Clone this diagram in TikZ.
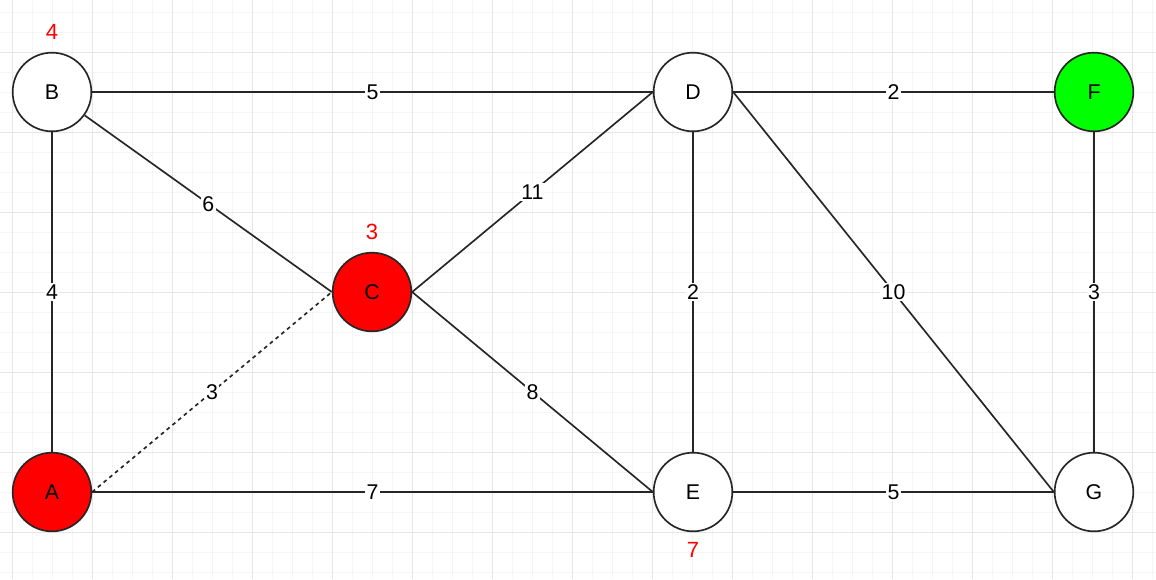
\documentclass[tikz,border=0pt]{standalone}
\usepackage{fontspec}
\setmainfont{Liberation Sans}
\definecolor{gridminor}{RGB}{245,245,245}
\definecolor{gridmajor}{RGB}{230,230,230}
\definecolor{nodered}{RGB}{255,0,0}
\definecolor{nodegreen}{RGB}{0,255,0}
\begin{document}
\begin{tikzpicture}[x=0.75pt,y=-0.75pt,
  vert/.style={circle,draw=black!85,line width=1.25pt,minimum size=59pt,inner sep=0pt,fill=white,font=\fontsize{16}{19}\selectfont},
  edge/.style={draw=black!85,line width=1.25pt},
  wlabel/.style={fill=white,inner sep=1pt,font=\fontsize{16}{19}\selectfont},
  redlabel/.style={text=nodered,font=\fontsize{16.5}{19}\selectfont}]
\useasboundingbox (0,0) rectangle (1156,579);
\fill[white] (0,0) rectangle (1156,579);
% grid
\foreach \x in {12,32,...,1152} \draw[gridminor,line width=0.75pt] (\x,0) -- (\x,579);
\foreach \y in {12,32,...,572} \draw[gridminor,line width=0.75pt] (0,\y) -- (1156,\y);
\foreach \x in {12,92,...,1152} \draw[gridmajor,line width=0.75pt] (\x,0) -- (\x,579);
\foreach \y in {52,132,...,572} \draw[gridmajor,line width=0.75pt] (0,\y) -- (1156,\y);
% nodes
\node[vert] (B) at (52,92) {B};
\node[vert] (D) at (693,92) {D};
\node[vert,fill=nodegreen] (F) at (1094,92) {F};
\node[vert,fill=nodered] (C) at (372,292) {C};
\node[vert,fill=nodered] (A) at (52,492) {A};
\node[vert] (E) at (693,492) {E};
\node[vert] (G) at (1094,492) {G};
% red labels
\node[redlabel] (lB) at (52,32) {4};
\node[redlabel] (lC) at (372,232) {3};
\node[redlabel] (lE) at (693,550) {7};
% edges
\draw[edge] (B) -- node[wlabel] {5} (D);
\draw[edge] (D) -- node[wlabel] {2} (F);
\draw[edge] (B) -- node[wlabel] {4} (A);
\draw[edge] (B) -- node[wlabel] {6} (C.west);
\draw[edge,dash pattern=on 2.8pt off 2.8pt] (A.east) -- node[wlabel] {3} (C.west);
\draw[edge] (C.east) -- node[wlabel] {11} (D.west);
\draw[edge] (C.east) -- node[wlabel] {8} (E.west);
\draw[edge] (D) -- node[wlabel] {2} (E);
\draw[edge] (D.east) -- node[wlabel] {10} (G.west);
\draw[edge] (F) -- node[wlabel] {3} (G);
\draw[edge] (A) -- node[wlabel] {7} (E);
\draw[edge] (E) -- node[wlabel] {5} (G);
\end{tikzpicture}
\end{document}
